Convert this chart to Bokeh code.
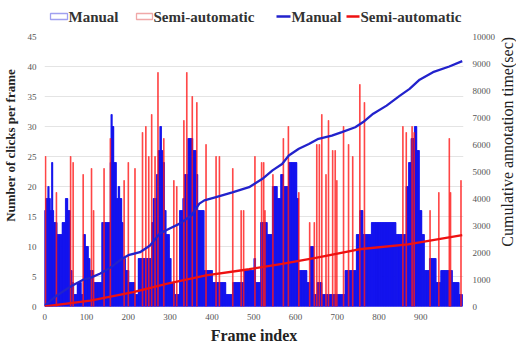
import math
from bokeh.plotting import figure
from bokeh.layouts import row, column
from bokeh.models import Range1d, LinearAxis, FixedTicker
from bokeh.core.properties import value
from bokeh.embed import file_html
from bokeh.resources import INLINE

# ---- data ----
# Manual clicks per frame, as runs: run start frame -> clicks
manual_run_start = [0, 3, 8, 11, 14, 17, 20, 22, 30, 42, 50, 56, 62, 66, 70, 78, 88, 93, 98,
                    105, 109, 117, 137, 157, 159, 162, 166, 172, 176, 180, 185, 188, 194, 202,
                    216, 224, 240, 256, 260, 268, 272, 276, 280, 283, 287, 291, 299, 303, 311,
                    323, 331, 335, 343, 355, 363, 367, 382, 402, 434, 450, 478, 501, 505, 517,
                    533, 545, 557, 565, 572, 584, 604, 608, 628, 636, 644, 652, 664, 672, 719,
                    746, 754, 762, 782, 841, 865, 871, 877, 885, 891, 897, 903, 909, 921, 937,
                    948, 976, 992]
manual_run_value = [16, 18, 20, 18, 16, 24, 16, 14, 12, 14, 18, 16, 6, 4, 2, 4, 2, 12, 10,
                    8, 6, 4, 14, 24, 32, 30, 24, 18, 20, 18, 14, 8, 6, 4,
                    2, 8, 8, 14, 18, 22, 26, 30, 26, 24, 16, 12, 8, 4, 2,
                    16, 18, 22, 28, 26, 22, 16, 6, 4, 2, 4, 6, 8, 4, 14,
                    12, 20, 18, 22, 20, 24, 18, 6, 4, 10, 2, 4, 2, 2, 6,
                    12, 16, 12, 14, 12, 20, 24, 28, 30, 26, 16, 12, 6, 8, 4,
                    6, 4, 2]
n_frames = 1000

# Semi-automatic clicks (non-zero frames)
semi_frames = [2, 28, 62, 68, 92, 112, 117, 142, 157, 190, 200, 216, 234, 242, 249, 256, 264,
               271, 285, 309, 316, 333, 340, 353, 364, 386, 410, 418, 450, 470, 476, 503, 519,
               524, 527, 546, 571, 583, 608, 634, 645, 651, 657, 663, 673, 679, 689, 695, 699,
               715, 727, 737, 754, 765, 857, 865, 879, 884, 922, 943, 968, 971, 996]
semi_values = [25, 19, 25, 24, 22, 23, 16, 23, 28, 21, 24, 23, 29, 30, 25, 32, 25,
               39, 28, 21, 20, 31, 39, 35, 34, 27, 25, 25, 23, 16, 16, 25, 24,
               24, 16, 22, 28, 30, 19, 14, 14, 27, 27, 32, 22, 31, 26, 26, 21,
               30, 27, 25, 37, 34, 30, 29, 30, 29, 16, 19, 28, 19, 21]

# Cumulative annotation time (sec)
manual_cum_frames = [0, 30, 62, 93, 109, 133, 157, 185, 200, 228, 252, 275, 299, 323, 351, 370,
                     382, 410, 449, 489, 521, 545, 568, 584, 608, 632, 655, 687, 711, 743, 762,
                     786, 818, 850, 873, 897, 929, 968, 999]
manual_cum = [30, 420, 740, 1000, 1060, 1220, 1440, 1770, 1900, 2010, 2260, 2700, 2890, 3070,
              3370, 3810, 3930, 4050, 4230, 4420, 4730, 5040, 5280, 5590, 5840, 6020, 6210, 6330,
              6460, 6640, 6830, 7140, 7440, 7810, 8060, 8400, 8680, 8890, 9090]
semi_cum_frames = [0, 109, 212, 291, 386, 489, 568, 648, 758, 869, 999]
semi_cum = [0, 220, 530, 840, 1150, 1380, 1580, 1800, 2130, 2300, 2640]

left_ticks = [0, 5, 10, 15, 20, 25, 30, 35, 40, 45]
right_ticks = [0, 1000, 2000, 3000, 4000, 5000, 6000, 7000, 8000, 9000, 10000]
x_ticks = [0, 100, 200, 300, 400, 500, 600, 700, 800, 900]

left_title = "Number of clicks per frame"
right_title = "Cumulative annotation time(sec)"
x_title = "Frame index"
legend_labels = ["Manual", "Semi-automatic", "Manual", "Semi-automatic"]

# expand runs to per-frame values
manual_values = []
for i, s in enumerate(manual_run_start):
    e = manual_run_start[i + 1] if i + 1 < len(manual_run_start) else n_frames
    manual_values += [manual_run_value[i]] * (e - s)
frames = list(range(n_frames))

SERIF = "Liberation Serif"
BLUE = "#1414ee"
RED = "#ff1a1a"
LINE_BLUE = "#2222cc"
LINE_RED = "#ee1111"
PH = 315  # height of the main row

# ---------------- main chart ----------------
p = figure(width=476, height=PH, output_backend="svg", toolbar_location=None,
           x_range=Range1d(-0.5, 1002), y_range=Range1d(0, 45),
           min_border_left=22, min_border_right=32, min_border_top=4, min_border_bottom=41)
p.extra_y_ranges = {"cum": Range1d(0, 10000)}
p.outline_line_color = None
p.background_fill_color = "white"
p.border_fill_color = "white"
p.xgrid.grid_line_color = None
p.ygrid.grid_line_color = "#e4e4e4"
p.ygrid.grid_line_width = 1

p.vbar(x=frames, top=manual_values, width=1, fill_color=BLUE, line_color=BLUE, line_width=0.6)
p.vbar(x=semi_frames, top=semi_values, width=1.2, fill_color=RED, line_color=RED,
       line_width=1.2, alpha=0.7)
p.line(manual_cum_frames, manual_cum, y_range_name="cum", line_color=LINE_BLUE, line_width=2.3)
p.line(semi_cum_frames, semi_cum, y_range_name="cum", line_color=LINE_RED, line_width=2.3)

def style_axis(ax):
    ax.axis_line_color = None
    ax.major_tick_line_color = None
    ax.minor_tick_line_color = None
    ax.major_tick_out = 0
    ax.major_tick_in = 0
    ax.minor_tick_out = 0
    ax.minor_tick_in = 0
    ax.major_label_text_font = SERIF
    ax.major_label_text_font_size = "9px"
    ax.major_label_text_color = "#555555"
    ax.axis_label_text_font = SERIF
    ax.axis_label_text_font_style = "bold"
    ax.axis_label_text_color = "#222222"

p.xaxis.ticker = FixedTicker(ticks=x_ticks)
style_axis(p.xaxis[0])
p.xaxis.axis_label = x_title
p.xaxis.axis_label_text_font_size = "16px"
p.xaxis.major_label_standoff = 7
p.xaxis.axis_label_standoff = 4

p.yaxis.ticker = FixedTicker(ticks=left_ticks)
style_axis(p.yaxis[0])
p.yaxis.major_label_standoff = 8

ra = LinearAxis(y_range_name="cum", ticker=FixedTicker(ticks=right_ticks))
style_axis(ra)
ra.major_label_standoff = 9
p.add_layout(ra, "right")

# ---------------- rotated axis titles (bottom-to-top) ----------------
def title_fig(w, text, weight, size, xpos, ypos):
    f = figure(width=w, height=PH, output_backend="svg", toolbar_location=None,
               x_range=Range1d(0, 1), y_range=Range1d(0, 1), x_axis_type=None,
               y_axis_type=None, min_border=0)
    f.outline_line_color = None
    f.grid.grid_line_color = None
    f.border_fill_color = "white"
    f.background_fill_color = "white"
    f.text(x=[xpos], y=[ypos], text=[text], angle=math.pi / 2, text_align="center",
           text_baseline="middle", text_font=value(SERIF), text_font_style=weight,
           text_font_size=size, text_color="#222222")
    return f

lf = title_fig(22, left_title, "bold", "13px", 0.47, 0.597)
rf = title_fig(18, right_title, "normal", "16px", 0.52, 0.61)

# ---------------- legend strip ----------------
lg = figure(width=516, height=32, output_backend="svg", toolbar_location=None,
            x_range=Range1d(0, 516), y_range=Range1d(0, 32), x_axis_type=None,
            y_axis_type=None, min_border=0)
lg.outline_line_color = None
lg.grid.grid_line_color = None
lg.border_fill_color = "white"
lg.background_fill_color = "white"
lg.quad(left=[50, 136], right=[67, 152], bottom=[13, 13], top=[19, 19], fill_alpha=0,
        line_color=["#a0a0f0", "#f0a8a8"], line_width=1.3)
lg.segment(x0=[276, 346], x1=[290, 359], y0=[16, 16], y1=[16, 16],
           line_color=[LINE_BLUE, LINE_RED], line_width=2.6)
lg.text(x=[68, 153, 291, 360], y=[16, 16, 16, 16], text=legend_labels, text_align="left",
        text_baseline="middle", text_font=value(SERIF), text_font_style="bold",
        text_font_size="15px", text_color="#333333")

layout = column(lg, row(lf, p, rf, spacing=0), spacing=0)
open("out.html", "w").write(file_html(layout, INLINE))
